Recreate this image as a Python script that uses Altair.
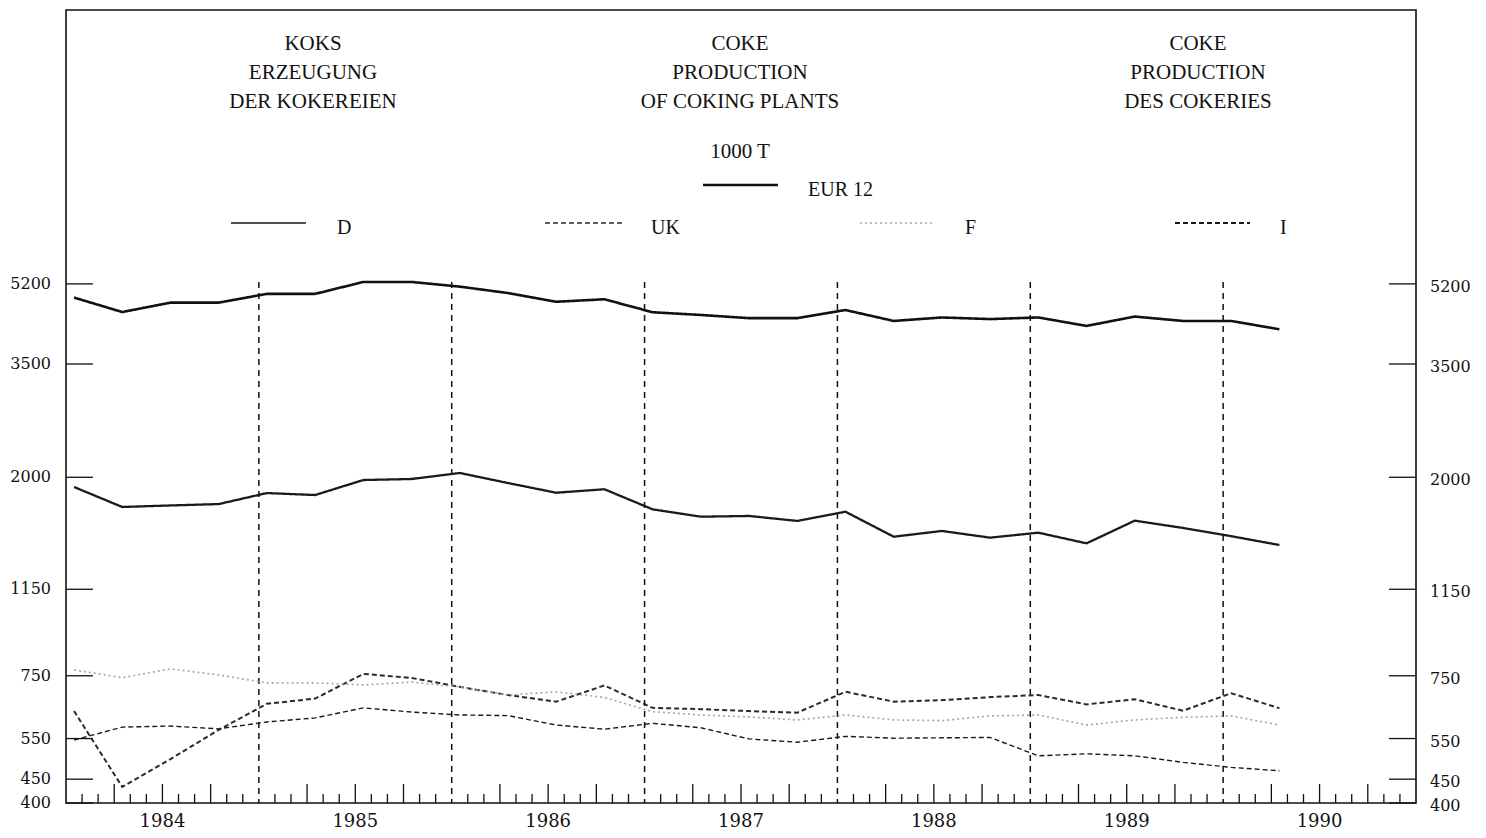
import altair as alt
import pandas as pd

# ---- data ----
quarters = [f"{y} Q{q}" for y in range(1984, 1991) for q in range(1, 5)][:26]
eur12 = [4860, 4525, 4740, 4740, 4950, 4950, 5250, 5250, 5130, 4970, 4760, 4820, 4520,
         4460, 4390, 4390, 4570, 4330, 4405, 4370, 4405, 4225, 4425, 4330, 4330, 4155]
d_vals = [1906, 1727, 1740, 1752, 1850, 1832, 1973, 1983, 2043, 1944, 1853, 1885, 1707,
          1646, 1652, 1612, 1687, 1491, 1534, 1484, 1521, 1443, 1614, 1557, 1495, 1431]
uk_vals = [630, 433, 497, 574, 653, 670, 757, 742, 710, 682, 660, 715, 640,
           636, 630, 625, 693, 660, 665, 675, 682, 651, 668, 631, 688, 639]
f_vals = [772, 743, 776, 753, 724, 724, 717, 727, 710, 682, 693, 674, 628,
          618, 612, 603, 618, 603, 601, 615, 618, 588, 603, 611, 615, 588]
i_vals = [546, 582, 585, 577, 597, 609, 640, 627, 618, 616, 588, 576, 593,
          580, 549, 540, 556, 551, 552, 553, 505, 510, 505, 489, 477, 469]

series_names = ["EUR 12", "D", "UK", "F", "I"]
series_values = [eur12, d_vals, uk_vals, f_vals, i_vals]
y_ticks = [400, 450, 550, 750, 1150, 2000, 3500, 5200]
year_labels = [1984, 1985, 1986, 1987, 1988, 1989, 1990]

# ---- styles ----
colors = ["#111111", "#1a1a1a", "#2a2a2a", "#a8a8a8", "#1a1a1a"]
dashes = [[1, 0], [1, 0], [5, 3], [2, 3], [5, 3]]
widths = [2.6, 1.4, 1.4, 1.3, 2.2]
FONT_NUM = "DejaVu Serif"
FONT_TXT = "Liberation Serif"

W, H = 1350, 793

# ---- tables ----
rows = []
for name, vals in zip(series_names, series_values):
    for k, (q, v) in enumerate(zip(quarters, vals)):
        rows.append({"series": name, "quarter": q, "month": 3 * k + 0.5, "value": v})
df = pd.DataFrame(rows)

xs = alt.Scale(domain=[0, 84], nice=False, zero=False)
ys = alt.Scale(type="log", domain=[400, 20125], nice=False)

lines = alt.Chart(df).mark_line().encode(
    x=alt.X("month:Q", scale=xs, axis=None),
    y=alt.Y("value:Q", scale=ys, axis=None),
    color=alt.Color("series:N", scale=alt.Scale(domain=series_names, range=colors), legend=None),
    strokeDash=alt.StrokeDash("series:N", scale=alt.Scale(domain=series_names, range=dashes), legend=None),
    strokeWidth=alt.StrokeWidth("series:N", scale=alt.Scale(domain=series_names, range=widths), legend=None),
    detail="series:N",
)

# year boundary dashed lines
yb = pd.DataFrame({"month": [(y - 1984) * 12 for y in year_labels[1:]], "top": 5250, "bot": 400})
year_rules = alt.Chart(yb).mark_rule(color="#111", strokeWidth=1.5, strokeDash=[6, 5]).encode(
    x=alt.X("month:Q", scale=xs, axis=None),
    y=alt.Y("top:Q", scale=ys, axis=None),
    y2="bot:Q",
)

# bottom month ticks
mt = pd.DataFrame({"month": [m for m in range(1, 84) if m % 12 != 0]})
mt["quarter_tick"] = mt["month"] % 3 == 0
short_ticks = alt.Chart(mt[~mt["quarter_tick"]]).mark_rule(color="#111", strokeWidth=1.3).encode(
    x=alt.X("month:Q", scale=xs, axis=None), y=alt.value(H), y2=alt.value(H - 9))
long_ticks = alt.Chart(mt[mt["quarter_tick"]]).mark_rule(color="#111", strokeWidth=1.3).encode(
    x=alt.X("month:Q", scale=xs, axis=None), y=alt.value(H), y2=alt.value(H - 19))

# year labels
yl = pd.DataFrame({"year": [str(y) for y in year_labels], "mid": [(y - 1984) * 12 + 6 for y in year_labels]})
year_text = alt.Chart(yl).mark_text(font=FONT_NUM, fontSize=18, color="#111", baseline="middle").encode(
    x=alt.X("mid:Q", scale=xs, axis=None), y=alt.value(H + 19), text="year:N")

# y ticks and labels (both sides)
yt = pd.DataFrame({"v": y_ticks, "lab": [str(v) for v in y_ticks]})
ytick_l = alt.Chart(yt).mark_rule(color="#111", strokeWidth=1.3).encode(
    y=alt.Y("v:Q", scale=ys, axis=None), x=alt.value(0), x2=alt.value(27))
ytick_r = alt.Chart(yt).mark_rule(color="#111", strokeWidth=1.3).encode(
    y=alt.Y("v:Q", scale=ys, axis=None), x=alt.value(W - 27), x2=alt.value(W))
ylab_l = alt.Chart(yt).mark_text(font=FONT_NUM, fontSize=16, color="#111", align="right", baseline="middle").encode(
    y=alt.Y("v:Q", scale=ys, axis=None), x=alt.value(-15), text="lab:N")
ylab_r = alt.Chart(yt).mark_text(font=FONT_NUM, fontSize=16, color="#111", align="left", baseline="middle", dy=3).encode(
    y=alt.Y("v:Q", scale=ys, axis=None), x=alt.value(W + 14), text="lab:N")

one = pd.DataFrame({"a": [0]})


def label(txt, x, y, size=21, align="center"):
    return alt.Chart(one).mark_text(font=FONT_TXT, fontSize=size, color="#111", align=align,
                                    baseline="middle", text=txt).encode(x=alt.value(x), y=alt.value(y))


titles = [
    label("KOKS", 247, 34), label("ERZEUGUNG", 247, 63), label("DER KOKEREIEN", 247, 92),
    label("COKE", 674, 34), label("PRODUCTION", 674, 63), label("OF COKING PLANTS", 674, 92),
    label("COKE", 1132, 34), label("PRODUCTION", 1132, 63), label("DES COKERIES", 1132, 92),
    label("1000 T", 674, 142),
]

# custom legend
leg_pos = {
    "EUR 12": (637, 712, 175, 742, 180),
    "D": (165, 240, 213, 271, 218),
    "UK": (479, 556, 213, 585, 218),
    "F": (794, 867, 213, 899, 218),
    "I": (1109, 1184, 213, 1214, 218),
}
legend_layers = []
for idx, name in enumerate(series_names):
    x1, x2, yy, tx, ty = leg_pos[name]
    legend_layers.append(
        alt.Chart(one).mark_rule(color=colors[idx], strokeWidth=widths[idx], strokeDash=dashes[idx]).encode(
            x=alt.value(x1), x2=alt.value(x2), y=alt.value(yy)))
    legend_layers.append(label(name, tx, ty, size=20, align="left"))

chart = alt.layer(
    year_rules, short_ticks, long_ticks, ytick_l, ytick_r, ylab_l, ylab_r, year_text,
    *titles, *legend_layers, lines,
).properties(
    width=W, height=H,
    autosize=alt.AutoSizeParams(type="none"),
    padding={"left": 58, "top": 2, "right": 62, "bottom": 27},
    background="white",
).configure_view(stroke="#111", strokeWidth=1.6)

chart.save("out.html", embed_options={"renderer": "svg", "actions": False})
